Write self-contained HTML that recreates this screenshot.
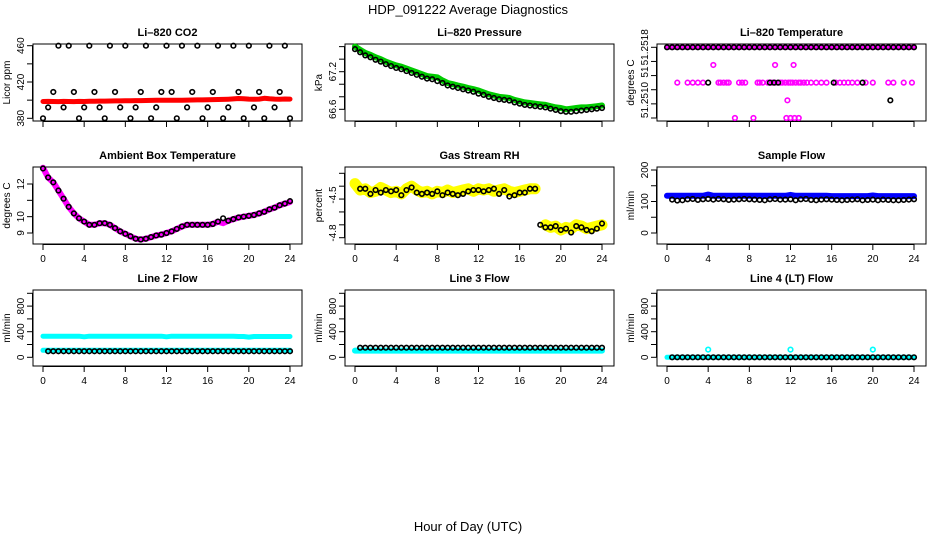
<!DOCTYPE html>
<html><head><meta charset="utf-8"><style>
body{margin:0;background:#fff;}
svg{display:block;font-family:"Liberation Sans",sans-serif;}
</style></head><body>
<svg id="c" width="936" height="540">
<text x="468" y="14" text-anchor="middle" font-size="13">HDP_091222  Average Diagnostics</text>
<text x="468" y="531" text-anchor="middle" font-size="13">Hour of Day (UTC)</text>
</svg>
<script>
const hours=[0,0.5,1,1.5,2,2.5,3,3.5,4,4.5,5,5.5,6,6.5,7,7.5,8,8.5,9,9.5,10,10.5,11,11.5,12,12.5,13,13.5,14,14.5,15,15.5,16,16.5,17,17.5,18,18.5,19,19.5,20,20.5,21,21.5,22,22.5,23,23.5,24];
const xTicks=[0,4,8,12,16,20,24];
// CO2
const co2Red=[398.5,398.6,398.5,398.4,398.6,398.5,398.4,398.6,398.5,398.7,398.8,398.9,399,399.1,399.2,399.2,399.3,399.4,399.5,399.5,399.6,399.7,399.8,399.8,399.9,399.8,399.9,400,400.1,400.2,400.3,400.3,400.5,400.6,400.7,400.8,401,401.4,401.8,401.6,401.2,401,401.2,402,401.5,401.2,401,401.3,401.2];
const co2Black=[380,392,409,460,392,460,409,380,392,460,409,392,380,460,409,392,460,380,392,409,460,380,392,409,460,409,380,460,392,409,460,380,392,409,460,380,392,460,409,380,460,392,409,380,460,392,409,460,380];
// Pressure
const presGreen=[67.6,67.55,67.5,67.47,67.43,67.4,67.36,67.33,67.3,67.28,67.25,67.22,67.19,67.16,67.13,67.12,67.11,67.06,67.02,67.0,66.98,66.96,66.94,66.92,66.9,66.87,66.84,66.82,66.8,66.79,66.78,66.75,66.73,66.71,66.7,66.69,66.68,66.67,66.65,66.63,66.62,66.6,66.61,66.62,66.63,66.63,66.64,66.65,66.66];
const presBlack=[67.56,67.51,67.46,67.43,67.39,67.36,67.32,67.29,67.26,67.24,67.21,67.18,67.15,67.12,67.09,67.08,67.05,67.02,66.98,66.96,66.94,66.92,66.9,66.88,66.85,66.83,66.8,66.78,66.76,66.75,66.74,66.71,66.69,66.67,66.66,66.65,66.64,66.63,66.61,66.59,66.57,66.56,66.56,66.57,66.58,66.59,66.6,66.61,66.62];
// Temperature
const tempTopVals=hours.map(()=>51.2518);
const tempMagHours=[1,2,2.5,3,3.5,5,5.2,5.5,5.8,6,7,7.3,7.6,8.8,9,9.3,9.8,10,10.2,10.5,11,11.2,11.5,11.8,12,12.2,12.5,12.8,13,13.3,13.6,14,14.5,15,15.5,16.4,16.8,17.2,17.6,18,18.5,19.3,20,21.5,22,23,23.8];
const tempMagVals=tempMagHours.map(()=>51.2514);
const tempMagOutHours=[4.5,10.5,12.3,11.7,6.6,8.4,11.6,12,12.4,12.8];
const tempMagOutVals=[51.2516,51.2516,51.2516,51.2512,51.2510,51.2510,51.2510,51.2510,51.2510,51.2510];
const tempBlackHours=[4,10,10.4,10.8,16.2,19,21.7];
const tempBlackVals=[51.2514,51.2514,51.2514,51.2514,51.2514,51.2514,51.2512];
// Ambient
const ambMag=[13,12.4,12.1,11.6,11.1,10.6,10.2,9.9,9.7,9.5,9.5,9.6,9.6,9.5,9.3,9.1,8.95,8.8,8.65,8.6,8.65,8.75,8.85,8.9,9.0,9.1,9.25,9.4,9.5,9.5,9.5,9.5,9.5,9.55,9.7,9.6,9.75,9.85,9.95,10.0,10.05,10.1,10.2,10.3,10.45,10.55,10.7,10.8,10.9];
const ambBlack=[12.95,12.4,12.1,11.6,11.1,10.6,10.2,9.9,9.7,9.5,9.5,9.6,9.6,9.5,9.3,9.1,8.95,8.8,8.65,8.6,8.65,8.75,8.85,8.9,9.0,9.1,9.25,9.4,9.5,9.5,9.5,9.5,9.5,9.55,9.7,9.9,9.75,9.85,9.95,10.0,10.05,10.1,10.2,10.3,10.45,10.55,10.7,10.8,10.95];
// Gas RH
const rhYellow=[-4.38,-4.43,-4.42,-4.45,-4.44,-4.41,-4.43,-4.45,-4.44,-4.46,-4.42,-4.4,-4.43,-4.45,-4.44,-4.46,-4.44,-4.45,-4.43,-4.45,-4.44,-4.43,-4.42,-4.44,-4.42,-4.43,-4.42,-4.44,-4.43,-4.42,-4.44,-4.45,-4.44,-4.43,-4.42,-4.42,null,-4.7,-4.72,-4.71,-4.74,-4.72,-4.73,-4.7,-4.71,-4.73,-4.72,-4.71,-4.7];
const rhBlack=[null,-4.42,-4.42,-4.46,-4.43,-4.45,-4.43,-4.44,-4.43,-4.47,-4.43,-4.41,-4.45,-4.46,-4.45,-4.46,-4.44,-4.47,-4.45,-4.46,-4.47,-4.46,-4.44,-4.43,-4.43,-4.44,-4.43,-4.42,-4.46,-4.43,-4.48,-4.47,-4.45,-4.45,-4.42,-4.42,-4.7,-4.72,-4.72,-4.71,-4.74,-4.73,-4.76,-4.71,-4.72,-4.74,-4.75,-4.73,-4.69];
// Flows
const sampleBlue=[118,118,118,118,118,118,118,118,122,118,118,118,118,118,118,118,118,118,118,118,118,118,118,118,121,118,118,118,118,118,118,118,117,117,117,117,117,117,117,117,119,117,117,117,117,117,117,117,117];
const sampleBlack=[null,106,103,104,107,108,105,107,108,106,108,107,105,106,107,108,107,106,105,104,107,108,106,106,107,104,107,108,105,104,106,107,106,105,104,105,106,107,104,105,106,104,106,105,104,104,105,106,107];
const l2CyanTop=[330,330,330,330,330,330,330,330,320,330,330,330,330,330,330,330,330,330,330,330,330,330,330,330,320,330,330,330,330,330,330,330,330,330,330,330,330,330,325,325,315,325,325,325,325,325,325,325,325];
const l2CyanLow=hours.map(()=>110);
const l2Black=[null,95,95,95,95,95,95,95,95,95,95,95,95,95,95,95,95,95,95,95,95,95,95,95,95,95,95,95,95,95,95,95,95,95,95,95,95,95,95,95,95,95,95,95,95,95,95,95,95];
const l3Cyan=hours.map(()=>105);
const l3Black=[null,150,150,150,150,150,150,150,150,150,150,150,150,150,150,150,150,150,150,150,150,150,150,150,150,150,150,150,150,150,150,150,150,150,150,150,150,150,150,150,150,150,150,150,150,150,150,150,150];
const l4Cyan=hours.map(()=>0);
const l4OutHours=[4,12,20];
const l4OutVals=[120,120,120];
const l4Black=[null,0,0,0,0,0,0,0,0,0,0,0,0,0,0,0,0,0,0,0,0,0,0,0,0,0,0,0,0,0,0,0,0,0,0,0,0,0,0,0,0,0,0,0,0,0,0,0,0];

const svg=document.getElementById('c');
const NS='http://www.w3.org/2000/svg';
function mk(t,a,p){const e=document.createElementNS(NS,t);for(const k in a)e.setAttribute(k,a[k]);(p||svg).appendChild(e);return e;}
const cols=[{l:33,r:302,x0:43,x24:290},{l:345,r:614,x0:355,x24:602},{l:657,r:926,x0:667,x24:914}];
const rows=[{t:44,b:121},{t:167,b:244},{t:290,b:366}];
function panel(ci,ri,o){
  const c=cols[ci],r=rows[ri];
  const g=mk('g',{});
  
  
  const X=h=>c.x0+(h/24)*(c.x24-c.x0);
  const Y=v=>o.p1+(v-o.v1)*(o.p2-o.p1)/(o.v2-o.v1);
  const box=mk('rect',{x:c.l,y:r.t,width:c.r-c.l,height:r.b-r.t,fill:'none',stroke:'#000','stroke-width':1},g);
  
  const tt=mk('text',{x:(c.l+c.r)/2,y:r.t-8,'text-anchor':'middle','font-size':11,'font-weight':'bold'},g);tt.textContent=o.title;
  
  mk('line',{x1:X(0),x2:X(24),y1:r.b+0.5,y2:r.b+0.5,stroke:'#000'},g);
  xTicks.forEach(h=>{mk('line',{x1:X(h),x2:X(h),y1:r.b,y2:r.b+6,stroke:'#000'},g);
    if(ri>0){const t=mk('text',{x:X(h),y:r.b+18,'text-anchor':'middle','font-size':10},g);t.textContent=h;
      }});
  const yt=o.ticks.map(Y);
  mk('line',{x1:c.l-0.5,x2:c.l-0.5,y1:Math.min(...yt),y2:Math.max(...yt),stroke:'#000'},g);
  o.ticks.forEach((v,i)=>{const y=Y(v);mk('line',{x1:c.l-6,x2:c.l,y1:y,y2:y,stroke:'#000'},g);
    const lab=o.labels[i];if(lab){const ly=o.labelPos&&o.labelPos[i]!=null?o.labelPos[i]:y;const t=mk('text',{x:c.l-9,y:ly,'text-anchor':'middle','font-size':10,transform:`rotate(-90 ${c.l-9} ${ly})`},g);t.textContent=lab;
      }});
  const yl=mk('text',{x:c.l-23,y:(r.t+r.b)/2,'text-anchor':'middle','font-size':10,transform:`rotate(-90 ${c.l-23} ${(r.t+r.b)/2})`},g);yl.textContent=o.ylab;
  
  const pg=mk('g',{},g);
  o.series.forEach(s=>{
    const hs=s.h||hours;
    if(s.band){let d='',pen=false;s.v.forEach((v,i)=>{if(v==null){pen=false;return;}d+=(pen?'L':'M')+X(hs[i]).toFixed(1)+' '+Y(v).toFixed(1);pen=true;});
      const p=mk('path',{d,fill:'none',stroke:s.color,'stroke-width':s.band,'stroke-linejoin':'round','stroke-linecap':'round'},pg);
      }
    else{s.v.forEach((v,i)=>{if(v==null)return;const e=mk('circle',{cx:X(hs[i]),cy:Y(v),r:2.3,fill:'none',stroke:s.color,'stroke-width':1.6},pg);
      });}
  });
}
panel(0,0,{name:'co2-panel',title:'Li\u2013820 CO2',ylab:'Licor ppm',v1:460,p1:45.7,v2:380,p2:118.3,ticks:[380,400,420,440,460],labels:['380','','420','','460'],
 series:[{v:co2Red,color:'#ff0000',band:5,name:'co2-red-series'},{v:co2Black,color:'#000',name:'co2-black-point'}]});
panel(1,0,{name:'pressure-panel',title:'Li\u2013820 Pressure',ylab:'kPa',v1:67.2,p1:71.7,v2:66.6,p2:109.3,ticks:[66.6,66.8,67.0,67.2,67.4,67.6],labels:['66.6','','','67.2','',''],
 series:[{v:presGreen,color:'#00cc00',band:6,name:'pressure-green-series'},{v:presBlack,color:'#000',name:'pressure-black-point'}]});
panel(2,0,{name:'temperature-panel',title:'Li\u2013820 Temperature',ylab:'degrees C',v1:51.2518,p1:47.3,v2:51.2510,p2:118,ticks:[51.2518,51.25164,51.25148,51.25132,51.25116,51.2510],labels:['51.2518','','51','','51.2510',''],labelPos:[null,null,72,null,100,null],
 series:[{v:tempTopVals,color:'#ff00ff',band:5,name:'temp-magenta-series'},{h:tempMagHours,v:tempMagVals,color:'#ff00ff',name:'temp-magenta-point'},{h:tempMagOutHours,v:tempMagOutVals,color:'#ff00ff',name:'temp-magenta-outlier'},{v:tempTopVals,color:'#000',name:'temp-black-point'},{h:tempBlackHours,v:tempBlackVals,color:'#000',name:'temp-black-outlier'}]});
panel(0,1,{name:'ambient-panel',title:'Ambient Box Temperature',ylab:'degrees C',v1:12,p1:184,v2:9,p2:233,ticks:[9,10,11,12],labels:['9','10','','12'],
 series:[{v:ambMag,color:'#ff00ff',band:6,name:'ambient-magenta-series'},{v:ambBlack,color:'#000',name:'ambient-black-point'}]});
panel(1,1,{name:'rh-panel',title:'Gas Stream RH',ylab:'percent',v1:-4.3,p1:173.3,v2:-4.8,p2:237.7,ticks:[-4.3,-4.4,-4.5,-4.6,-4.7,-4.8],labels:['','','-4.5','','','-4.8'],labelPos:[null,null,195,null,null,233],
 series:[{v:rhYellow,color:'#ffff00',band:11,name:'rh-yellow-series'},{v:rhBlack,color:'#000',name:'rh-black-point'}]});
panel(2,1,{name:'sample-flow-panel',title:'Sample Flow',ylab:'ml/min',v1:200,p1:170,v2:0,p2:233,ticks:[0,50,100,150,200],labels:['0','','100','','200'],
 series:[{v:sampleBlue,color:'#0000ff',band:6,name:'sample-blue-series'},{v:sampleBlack,color:'#000',name:'sample-black-point'}]});
const fl={v1:1000,p1:293.3,v2:0,p2:357.3,ticks:[0,200,400,600,800,1000],labels:['0','','400','','800',''],ylab:'ml/min'};
panel(0,2,Object.assign({},fl,{name:'line2-panel',title:'Line 2 Flow',
 series:[{v:l2CyanTop,color:'#00ffff',band:5,name:'line2-cyan-series'},{v:l2CyanLow,color:'#00ffff',band:5,name:'line2-cyan-low'},{v:l2Black,color:'#000',name:'line2-black-point'}]}));
panel(1,2,Object.assign({},fl,{name:'line3-panel',title:'Line 3 Flow',
 series:[{v:l3Cyan,color:'#00ffff',band:6,name:'line3-cyan-series'},{v:l3Black,color:'#000',name:'line3-black-point'}]}));
panel(2,2,Object.assign({},fl,{name:'line4-panel',title:'Line 4 (LT) Flow',
 series:[{v:l4Cyan,color:'#00ffff',band:5,name:'line4-cyan-series'},{h:l4OutHours,v:l4OutVals,color:'#00ffff',name:'line4-cyan-outlier'},{v:l4Black,color:'#000',name:'line4-black-point'}]}));
</script>
</body></html>
